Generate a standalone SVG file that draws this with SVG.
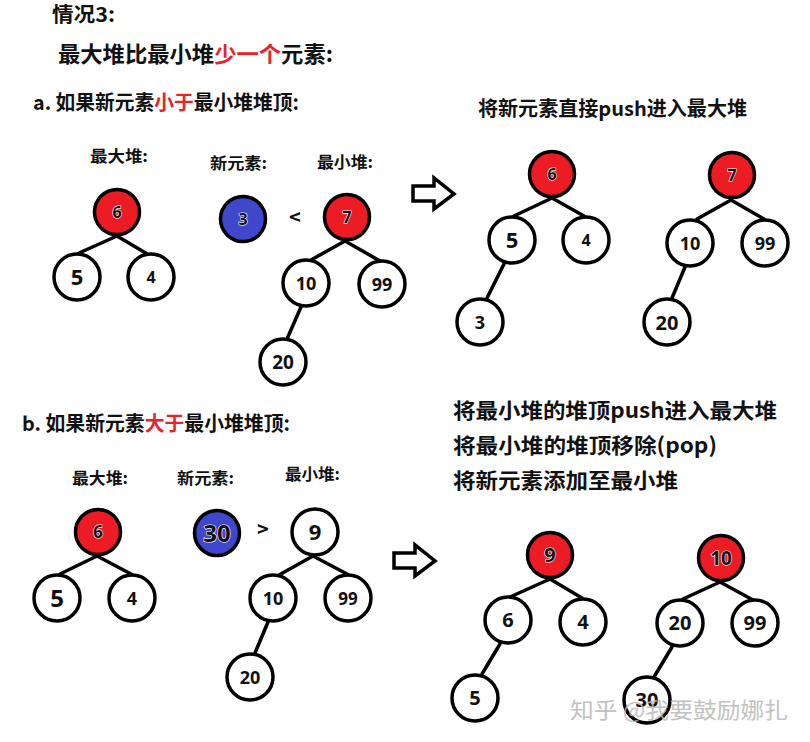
<svg xmlns="http://www.w3.org/2000/svg" width="810" height="742" viewBox="0 0 810 742">
<style>
.h{font-family:"Noto Sans CJK SC","Noto Sans",sans-serif;font-weight:bold;fill:#111}
.r{fill:#e8232b}
.e line{stroke:#000;stroke-width:3.5;stroke-linecap:round}
.n circle{stroke:#000;stroke-width:3.5;fill:#fff}
.n.red circle{fill:#ed1c24}
.n.blue circle{fill:#3f48cc}
.n text{font-family:"Open Sans","Noto Sans CJK SC",sans-serif;font-weight:bold;fill:#111;text-anchor:middle}
.n.red text,.n.blue text{stroke:#fff;stroke-width:1.2;paint-order:stroke}
.arr{fill:#fff;stroke:#000;stroke-width:3.5;stroke-linejoin:miter}
.wm{font-family:"Noto Sans CJK SC",sans-serif;fill:#b8b8b8;opacity:0.85}
</style>
<rect width="810" height="742" fill="#fff"/>

<!-- headings -->
<text class="h" x="52" y="22" font-size="20" textLength="63" lengthAdjust="spacingAndGlyphs">情况3:</text>
<text class="h" x="58" y="62" font-size="22" textLength="275" lengthAdjust="spacingAndGlyphs">最大堆比最小堆<tspan class="r">少一个</tspan>元素:</text>
<text class="h" x="33" y="110" font-size="20" textLength="266" lengthAdjust="spacingAndGlyphs">a. 如果新元素<tspan class="r">小于</tspan>最小堆堆顶:</text>
<text class="h" x="478" y="116" font-size="20" textLength="269" lengthAdjust="spacingAndGlyphs">将新元素直接push进入最大堆</text>
<text class="h" x="90" y="162" font-size="16" textLength="58" lengthAdjust="spacingAndGlyphs">最大堆:</text>
<text class="h" x="210" y="169" font-size="16" textLength="57" lengthAdjust="spacingAndGlyphs">新元素:</text>
<text class="h" x="317" y="168" font-size="16" textLength="56" lengthAdjust="spacingAndGlyphs">最小堆:</text>

<text class="h" x="22" y="431" font-size="20" textLength="268" lengthAdjust="spacingAndGlyphs">b. 如果新元素<tspan class="r">大于</tspan>最小堆堆顶:</text>
<text class="h" x="72" y="484" font-size="16" textLength="56" lengthAdjust="spacingAndGlyphs">最大堆:</text>
<text class="h" x="177" y="484" font-size="16" textLength="57" lengthAdjust="spacingAndGlyphs">新元素:</text>
<text class="h" x="285" y="480" font-size="16" textLength="55" lengthAdjust="spacingAndGlyphs">最小堆:</text>
<text class="h" x="453" y="418" font-size="21" textLength="324" lengthAdjust="spacingAndGlyphs">将最小堆的堆顶push进入最大堆</text>
<text class="h" x="453" y="453" font-size="21" textLength="264" lengthAdjust="spacingAndGlyphs">将最小堆的堆顶移除(pop)</text>
<text class="h" x="453" y="488" font-size="21" textLength="225" lengthAdjust="spacingAndGlyphs">将新元素添加至最小堆</text>

<text class="h" x="295" y="225" font-size="20" text-anchor="middle">&lt;</text>
<text class="h" x="263" y="537" font-size="20" text-anchor="middle">&gt;</text>

<!-- arrows -->
<g id="arrow-a"><polygon class="arr" points="413,186 434,186 434,178 454,194 434,209 434,201 413,201"/></g>
<g id="arrow-b"><polygon class="arr" points="394,553 415,553 415,545 435,561 415,576 415,568 394,568"/></g>

<!-- connectors -->
<g id="connectors" class="e">
  <line x1="117" y1="236" x2="79" y2="253"/>
  <line x1="117" y1="236" x2="149" y2="255"/>
  <line x1="345" y1="241" x2="311" y2="260"/>
  <line x1="345" y1="241" x2="380" y2="261"/>
  <line x1="301" y1="307" x2="287" y2="339"/>

  <line x1="552" y1="198" x2="514" y2="216"/>
  <line x1="552" y1="198" x2="584" y2="216"/>
  <line x1="504" y1="264" x2="487" y2="298"/>
  <line x1="731" y1="200" x2="697" y2="219"/>
  <line x1="731" y1="200" x2="764" y2="219"/>
  <line x1="685" y1="267" x2="672" y2="298"/>

  <line x1="97" y1="556" x2="60" y2="574"/>
  <line x1="97" y1="556" x2="131" y2="574"/>
  <line x1="313" y1="556" x2="279" y2="575"/>
  <line x1="313" y1="556" x2="347" y2="574"/>
  <line x1="268" y1="622" x2="255" y2="653"/>

  <line x1="550" y1="579" x2="510" y2="597"/>
  <line x1="550" y1="579" x2="582" y2="598"/>
  <line x1="500" y1="644" x2="482" y2="674"/>
  <line x1="720" y1="582" x2="683" y2="599"/>
  <line x1="720" y1="582" x2="753" y2="600"/>
  <line x1="672" y1="647" x2="654" y2="677"/>
</g>

<!-- section a, left -->
<g id="a-max-6" class="n red"><circle cx="117" cy="212" r="22.5"/><text x="117" y="218" font-size="16">6</text></g>
<g id="a-max-5" class="n"><circle cx="77" cy="277" r="23"/><text x="77" y="285" font-size="22">5</text></g>
<g id="a-max-4" class="n"><circle cx="151" cy="277" r="23"/><text x="151" y="283" font-size="16">4</text></g>
<g id="a-new-3" class="n blue"><circle cx="243" cy="219" r="22.5"/><text x="243" y="225" font-size="16">3</text></g>
<g id="a-min-7" class="n red"><circle cx="347" cy="217" r="22.5"/><text x="347" y="223" font-size="16">7</text></g>
<g id="a-min-10" class="n"><circle cx="306" cy="283" r="23"/><text x="306" y="290" font-size="18">10</text></g>
<g id="a-min-99" class="n"><circle cx="382" cy="284" r="23"/><text x="382" y="291" font-size="18">99</text></g>
<g id="a-min-20" class="n"><circle cx="283" cy="362" r="23"/><text x="283" y="369" font-size="19">20</text></g>

<!-- section a, right -->
<g id="a2-max-6" class="n red"><circle cx="552" cy="174" r="22.5"/><text x="552" y="180" font-size="16">6</text></g>
<g id="a2-max-5" class="n"><circle cx="512" cy="240" r="23"/><text x="512" y="248" font-size="22">5</text></g>
<g id="a2-max-4" class="n"><circle cx="586" cy="240" r="23"/><text x="586" y="246" font-size="16">4</text></g>
<g id="a2-max-3" class="n"><circle cx="480" cy="322" r="23"/><text x="480" y="329" font-size="18">3</text></g>
<g id="a2-min-7" class="n red"><circle cx="732" cy="175" r="22.5"/><text x="732" y="181" font-size="16">7</text></g>
<g id="a2-min-10" class="n"><circle cx="690" cy="243" r="23"/><text x="690" y="250" font-size="18">10</text></g>
<g id="a2-min-99" class="n"><circle cx="765" cy="243" r="23"/><text x="765" y="250" font-size="18">99</text></g>
<g id="a2-min-20" class="n"><circle cx="667" cy="322" r="23"/><text x="667" y="330" font-size="20">20</text></g>

<!-- section b, left -->
<g id="b-max-6" class="n red"><circle cx="98" cy="532" r="22.5"/><text x="98" y="538" font-size="17">6</text></g>
<g id="b-max-5" class="n"><circle cx="57" cy="598" r="23"/><text x="57" y="607" font-size="24">5</text></g>
<g id="b-max-4" class="n"><circle cx="132" cy="598" r="23"/><text x="132" y="605" font-size="18">4</text></g>
<g id="b-new-30" class="n blue"><circle cx="217" cy="533" r="22.5"/><text x="217" y="542" font-size="24">30</text></g>
<g id="b-min-9" class="n"><circle cx="315" cy="532" r="23"/><text x="315" y="540" font-size="22">9</text></g>
<g id="b-min-10" class="n"><circle cx="273" cy="598" r="23"/><text x="273" y="605" font-size="18">10</text></g>
<g id="b-min-99" class="n"><circle cx="348" cy="598" r="23"/><text x="348" y="605" font-size="17">99</text></g>
<g id="b-min-20" class="n"><circle cx="250" cy="677" r="23"/><text x="250" y="684" font-size="18">20</text></g>

<!-- section b, right -->
<g id="b2-max-9" class="n red"><circle cx="550" cy="555" r="22.5"/><text x="550" y="562" font-size="20">9</text></g>
<g id="b2-max-6" class="n"><circle cx="508" cy="620" r="23"/><text x="508" y="627" font-size="20">6</text></g>
<g id="b2-max-4" class="n"><circle cx="583" cy="622" r="23"/><text x="583" y="629" font-size="20">4</text></g>
<g id="b2-max-5" class="n"><circle cx="475" cy="698" r="23"/><text x="475" y="705" font-size="20">5</text></g>
<g id="b2-min-10" class="n red"><circle cx="721" cy="558" r="22.5"/><text x="721" y="565" font-size="19">10</text></g>
<g id="b2-min-20" class="n"><circle cx="680" cy="623" r="23"/><text x="680" y="630" font-size="20">20</text></g>
<g id="b2-min-99" class="n"><circle cx="755" cy="623" r="23"/><text x="755" y="630" font-size="20">99</text></g>
<g id="b2-min-30" class="n"><circle cx="647" cy="700" r="23"/><text x="647" y="707" font-size="20">30</text></g>

<text class="wm" x="570" y="718" font-size="22" textLength="218" lengthAdjust="spacingAndGlyphs">知乎 @我要鼓励娜扎</text>
</svg>
